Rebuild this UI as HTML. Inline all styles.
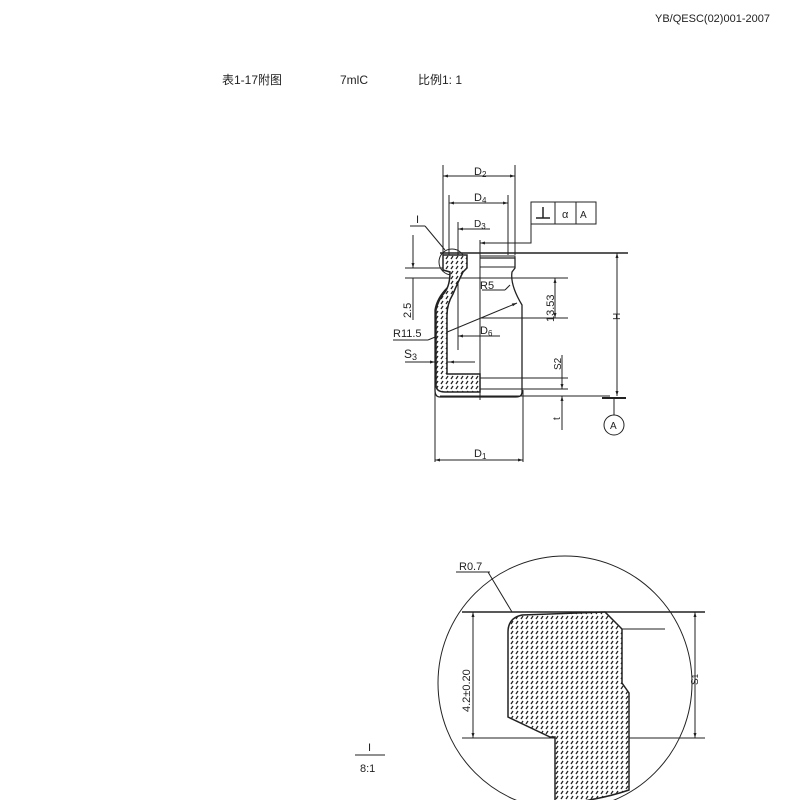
<!DOCTYPE html>
<html><head><meta charset="utf-8"><style>
html,body{margin:0;padding:0;background:#fff;}
svg{display:block;}
text{font-family:"Liberation Sans","Noto Sans CJK SC",sans-serif;fill:#222;}
</style></head><body>
<svg width="800" height="800" viewBox="0 0 800 800" xmlns="http://www.w3.org/2000/svg">
<defs>
<pattern id="h" width="5" height="5" patternUnits="userSpaceOnUse">
<rect width="5" height="5" fill="#fff"/><line x1="1" y1="4" x2="3" y2="1" stroke="#222" stroke-width="1.3"/>
</pattern>
<marker id="a" viewBox="0 0 10 10" refX="10" refY="5" markerWidth="7" markerHeight="5" orient="auto-start-reverse"><path d="M0,2 L10,5 L0,8z" fill="#222"/></marker>
</defs>
<rect width="800" height="800" fill="#fff"/>
<text x="655" y="22" font-size="11">YB/QESC(02)001-2007</text>
<text x="222" y="84" font-size="12">表1-17附图</text>
<text x="340" y="84" font-size="12">7mlC</text>
<text x="418" y="84" font-size="12">比例1: 1</text>

<g stroke="#222" stroke-width="1" fill="none">
<line x1="443" y1="165" x2="443" y2="258"/>
<line x1="515" y1="165" x2="515" y2="255"/>
<line x1="449" y1="195" x2="449" y2="255"/>
<line x1="508" y1="195" x2="508" y2="255"/>
<line x1="458" y1="222" x2="458" y2="350"/>
<line x1="435" y1="390" x2="435" y2="462"/>
<line x1="523" y1="390" x2="523" y2="462"/>
<line x1="480" y1="240" x2="480" y2="400"/>
<line x1="443" y1="176" x2="515" y2="176" marker-start="url(#a)" marker-end="url(#a)"/>
<line x1="449" y1="203" x2="508" y2="203" marker-start="url(#a)" marker-end="url(#a)"/>
<line x1="458" y1="229" x2="490" y2="229" marker-start="url(#a)"/>
<line x1="435" y1="460" x2="523" y2="460" marker-start="url(#a)" marker-end="url(#a)"/>
<line x1="440" y1="253" x2="628" y2="253" stroke-width="1.5"/>
<line x1="405" y1="268" x2="445" y2="268"/>
<line x1="405" y1="278" x2="568" y2="278"/>
<line x1="480" y1="318" x2="568" y2="318"/>
<line x1="480" y1="378" x2="568" y2="378"/>
<line x1="480" y1="389" x2="568" y2="389"/>
<line x1="440" y1="396" x2="610" y2="396"/>
<line x1="617" y1="253" x2="617" y2="396" marker-start="url(#a)" marker-end="url(#a)"/>
<line x1="555" y1="278" x2="555" y2="318" marker-start="url(#a)" marker-end="url(#a)"/>
<line x1="562" y1="355" x2="562" y2="389" marker-end="url(#a)"/>
<line x1="562" y1="430" x2="562" y2="396" marker-end="url(#a)"/>
<line x1="413" y1="235" x2="413" y2="268" marker-end="url(#a)"/>
<line x1="413" y1="278" x2="413" y2="320"/>
<line x1="405" y1="362" x2="435" y2="362" marker-end="url(#a)"/>
<line x1="440" y1="362" x2="475" y2="362"/>
<line x1="458" y1="362" x2="449" y2="362" marker-end="url(#a)"/>
<line x1="458" y1="336" x2="500" y2="336" marker-start="url(#a)"/>
<line x1="393" y1="340" x2="428" y2="340"/>
<line x1="428" y1="340" x2="517" y2="303" marker-end="url(#a)"/>
<line x1="482" y1="290" x2="505" y2="290"/>
<line x1="505" y1="290" x2="510" y2="285"/>
<line x1="410" y1="226" x2="425" y2="226"/>
<line x1="425" y1="226" x2="445" y2="250"/>
<circle cx="452" cy="262" r="13"/>
<rect x="531" y="202" width="65" height="22"/>
<line x1="555" y1="202" x2="555" y2="224"/><line x1="576" y1="202" x2="576" y2="224"/>
<line x1="536" y1="218" x2="550" y2="218" stroke-width="1.5"/><line x1="543" y1="207" x2="543" y2="218" stroke-width="1.5"/>
<polyline points="531,224 531,243 480,243" marker-end="url(#a)"/>
<line x1="602" y1="398" x2="626" y2="398" stroke-width="2"/>
<line x1="614" y1="398" x2="614" y2="415"/>
<circle cx="614" cy="425" r="10"/>
<path d="M480,258 H515 V268 L512,272 Q510,285 522,305 V392 Q522,397 516,397 H440 Q435,397 435,390 V310 Q437,298 447,288 Q452,282 452,270" stroke-width="1.3"/>
<rect x="480" y="256" width="35" height="11"/>
<path d="M443,255 H467 V268 L463,272 Q458,282 453,294 Q447,304 447,315 V374 H480 V392 H445 Q436,392 436,385 V310 Q438,300 445,292 Q450,285 450,272 L443,270 Z" fill="url(#h)" stroke-width="1.5"/>
</g>
<text x="474" y="175" font-size="11">D<tspan font-size="8" dy="2">2</tspan></text>
<text x="474" y="201" font-size="11">D<tspan font-size="8" dy="2">4</tspan></text>
<text x="474" y="227" font-size="10">D<tspan font-size="8" dy="2">3</tspan></text>
<text x="474" y="457" font-size="11">D<tspan font-size="8" dy="2">1</tspan></text>
<text x="480" y="289" font-size="11">R5</text>
<text x="393" y="337" font-size="11">R11.5</text>
<text x="480" y="334" font-size="11">D<tspan font-size="8" dy="2">6</tspan></text>
<text x="404" y="358" font-size="12">S<tspan font-size="9" dy="2">3</tspan></text>
<text x="416" y="223" font-size="11">I</text>
<text x="562" y="218" font-size="11">α</text>
<text x="580" y="218" font-size="10">A</text>
<text x="610" y="429" font-size="10">A</text>
<text transform="translate(411,318) rotate(-90)" font-size="11">2.5</text>
<text transform="translate(554,322) rotate(-90)" font-size="11">13.53</text>
<text transform="translate(620,320) rotate(-90)" font-size="10">H</text>
<text transform="translate(561,370) rotate(-90)" font-size="10">S2</text>
<text transform="translate(560,420) rotate(-90)" font-size="10">t</text>

<g stroke="#222" fill="none" stroke-width="1">
<circle cx="565" cy="683" r="127"/>
<line x1="462" y1="612" x2="705" y2="612" stroke-width="1.5"/>
<line x1="462" y1="738" x2="705" y2="738"/>
<line x1="622" y1="629" x2="665" y2="629"/>
<line x1="473" y1="612" x2="473" y2="738" marker-start="url(#a)" marker-end="url(#a)"/>
<line x1="695" y1="612" x2="695" y2="738" marker-start="url(#a)" marker-end="url(#a)"/>
<path d="M508,717 V632 Q508,618 522,615 L605,612 L622,629 V683 L629,693 V790 Q600,800 555,805 V737 H550 Z" fill="url(#h)" stroke-width="1.5"/>
<line x1="456" y1="572" x2="490" y2="572"/>
<line x1="488" y1="572" x2="512" y2="612"/>
<line x1="355" y1="755" x2="385" y2="755"/>
</g>
<text x="459" y="570" font-size="11">R0.7</text>
<text transform="translate(470,712) rotate(-90)" font-size="11">4.2±0.20</text>
<text transform="translate(698,685) rotate(-90)" font-size="10">S<tspan font-size="8">1</tspan></text>
<text x="368" y="751" font-size="11">I</text>
<text x="360" y="772" font-size="11">8:1</text>
</svg>
</body></html>
